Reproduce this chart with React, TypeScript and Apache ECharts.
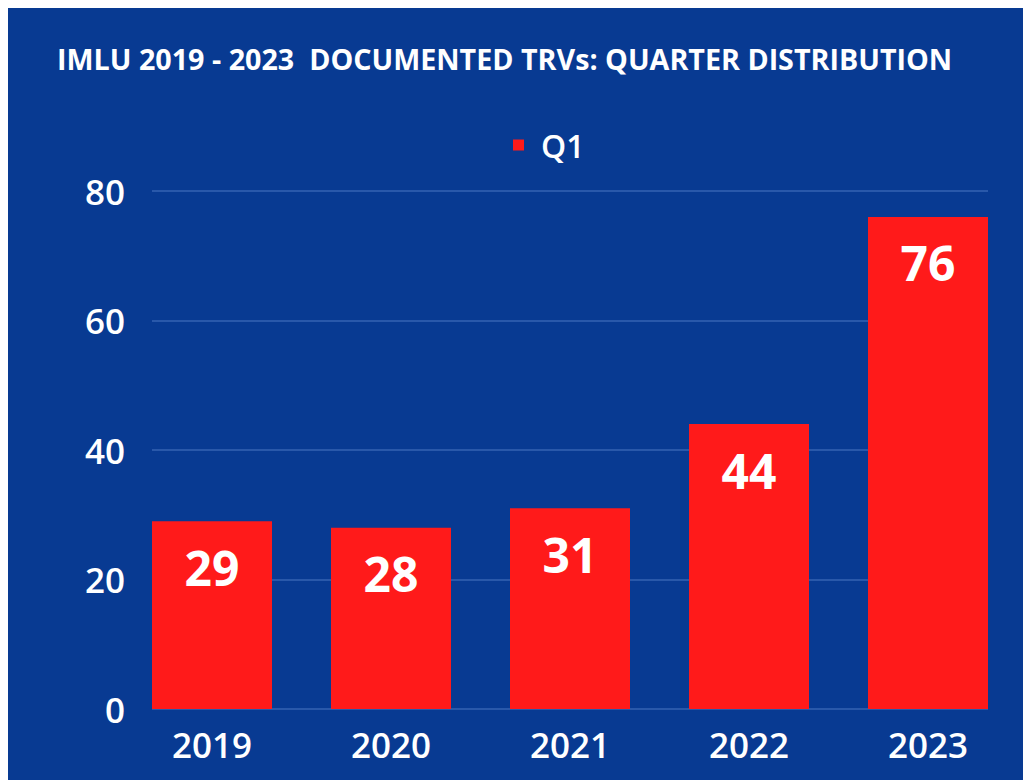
import React, { useEffect, useRef } from "react";
import * as echarts from "echarts";

const titleText = "IMLU 2019 - 2023  DOCUMENTED TRVs: QUARTER DISTRIBUTION";
const categories = ["2019", "2020", "2021", "2022", "2023"];
const seriesName = "Q1";
const q1Values = [29, 28, 31, 44, 76];
const yTicks = { min: 0, max: 80, interval: 20 };

const BG = "#083a92";
const BAR = "#ff1a1a";
const GRID = "#3563b2";
const FONT = "'Open Sans', 'Noto Sans', sans-serif";

export default function App() {
  const ref = useRef<HTMLDivElement>(null);
  useEffect(() => {
    if (!ref.current) return;
    const chart = echarts.init(ref.current, undefined, { renderer: "svg" });
    chart.setOption({
      animation: false,
      backgroundColor: BG,
      textStyle: { fontFamily: FONT },
      title: {
        text: titleText,
        left: 44,
        top: 31,
        textStyle: { color: "#ffffff", fontSize: 28.7, fontWeight: "bold", fontFamily: FONT },
      },
      legend: {
        data: [seriesName],
        left: 505,
        top: 121,
        padding: 0,
        icon: "rect",
        itemWidth: 11,
        itemHeight: 11,
        itemGap: 10,
        textStyle: {
          color: "#ffffff",
          fontSize: 32,
          fontWeight: 600,
          fontFamily: FONT,
          padding: [0, 0, 0, 12],
        },
      },
      grid: [
        { left: 144, right: 43, top: 183, bottom: 71 },
        { left: 114.5, right: 13.5, top: 183, bottom: 71 },
      ],
      xAxis: [
        { type: "category", gridIndex: 0, data: categories, show: false },
        {
          type: "category",
          gridIndex: 1,
          data: categories,
          axisLine: { show: false },
          axisTick: { show: false },
          axisLabel: { color: "#ffffff", fontSize: 35, fontWeight: 600, margin: 18, fontFamily: FONT },
        },
      ],
      yAxis: [
        {
          type: "value",
          gridIndex: 0,
          min: yTicks.min,
          max: yTicks.max,
          interval: yTicks.interval,
          axisLine: { show: false },
          axisTick: { show: false },
          axisLabel: { color: "#ffffff", fontSize: 35, fontWeight: 600, margin: 27, fontFamily: FONT },
          splitLine: { lineStyle: { color: GRID, width: 1.5 } },
        },
        {
          type: "value",
          gridIndex: 1,
          min: yTicks.min,
          max: yTicks.max,
          interval: yTicks.interval,
          show: false,
          splitLine: { show: false },
        },
      ],
      series: [
        {
          name: seriesName,
          type: "bar",
          xAxisIndex: 1,
          yAxisIndex: 1,
          data: q1Values,
          barWidth: 120,
          itemStyle: { color: BAR },
          label: {
            show: true,
            position: "insideTop",
            distance: 22,
            color: "#ffffff",
            fontSize: 48,
            fontWeight: "bold",
            fontFamily: FONT,
          },
        },
      ],
    });
    return () => chart.dispose();
  }, []);
  return <div ref={ref} style={{ width: 1023, height: 772 }} />;
}
